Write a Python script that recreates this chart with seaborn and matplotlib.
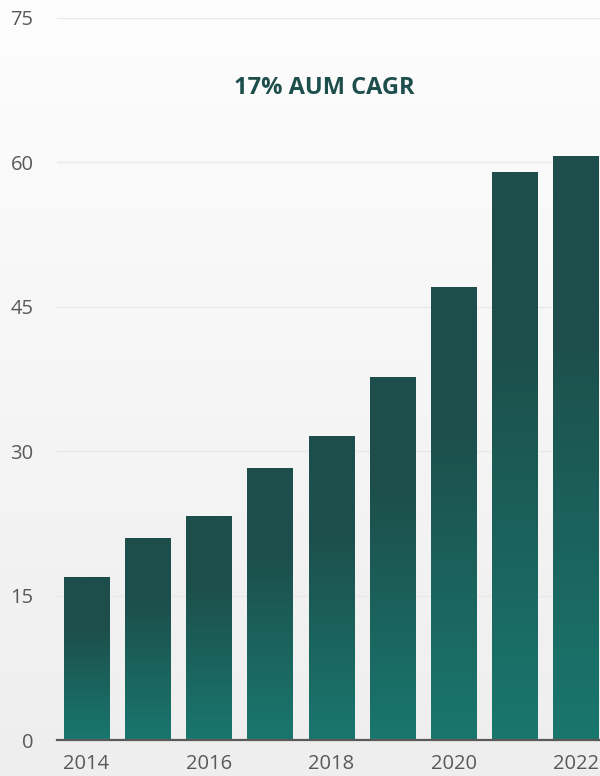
import numpy as np
import pandas as pd
import matplotlib
matplotlib.use("Agg")
import matplotlib.pyplot as plt
import matplotlib.transforms as mtransforms
from matplotlib.colors import LinearSegmentedColormap
import seaborn as sns

years = ["2014", "2015", "2016", "2017", "2018", "2019", "2020", "2021", "2022"]
aum = [16.9, 20.9, 23.2, 28.2, 31.5, 37.7, 47.0, 59.0, 60.6]
y_ticks = [0, 15, 30, 45, 60, 75]
x_labels = ["2014", "", "2016", "", "2018", "", "2020", "", "2022"]
title = "17% AUM CAGR"

sns.set_theme(style="white")
plt.rcParams["font.family"] = ["Open Sans", "DejaVu Sans"]

W, H, DPI = 600, 776, 100
fig = plt.figure(figsize=(W / DPI, H / DPI), dpi=DPI)

# soft vertical background wash behind everything
bg = fig.add_axes([0, 0, 1, 1], zorder=-10)
bg_grad = np.linspace(0, 1, 256).reshape(-1, 1)
bg_cmap = LinearSegmentedColormap.from_list("bg", ["#fdfdfd", "#eeeeee"])
bg.imshow(bg_grad, aspect="auto", cmap=bg_cmap, extent=[0, 1, 0, 1], origin="upper")
bg.set_axis_off()

left, right = 57 / W, 1.0
bottom, top = (H - 740) / H, (H - 18) / H
ax = fig.add_axes([left, bottom, right - left, top - bottom])
ax.patch.set_alpha(0)

df = pd.DataFrame({"year": years, "aum": aum})
sns.barplot(data=df, x="year", y="aum", ax=ax, width=0.74, color="#1c4d4a",
            saturation=1, zorder=3)

# each bar: solid dark top third, fading to teal at the base
bar_cmap = LinearSegmentedColormap.from_list(
    "bar", [(0.0, "#1d4e4b"), (0.30, "#1d4e4b"), (1.0, "#19776e")])
grad = np.linspace(0, 1, 256).reshape(-1, 1)
for p in ax.patches:
    x0, w, h = p.get_x(), p.get_width(), p.get_height()
    p.set_visible(False)
    ax.imshow(grad, aspect="auto", cmap=bar_cmap, origin="upper",
              extent=[x0, x0 + w, 0, h], zorder=3, interpolation="bilinear")

ax.set_xlim(-0.48, 8.39)
ax.set_ylim(0, 75)
ax.set_yticks(y_ticks)
ax.set_yticklabels([str(t) for t in y_ticks])
ax.set_xticks(range(len(years)))
ax.set_xticklabels(x_labels)
ax.set_xlabel("")
ax.set_ylabel("")

ax.yaxis.grid(True, color="#e9e9e9", linewidth=1.0, zorder=0)
ax.xaxis.grid(False)
ax.set_axisbelow(True)
for s in ["left", "right", "top"]:
    ax.spines[s].set_visible(False)
ax.spines["bottom"].set_color("#5a5a5a")
ax.spines["bottom"].set_linewidth(1.6)
ax.spines["bottom"].set_zorder(5)

ax.tick_params(axis="y", length=0, pad=17, labelsize=14.5, labelcolor="#595959")
ax.tick_params(axis="x", length=0, pad=10, labelsize=14.5, labelcolor="#595959")

title_tf = mtransforms.blended_transform_factory(ax.transAxes, ax.transData)
ax.text(0.4926, 67.7, title, transform=title_tf, ha="center", va="center",
        fontsize=17, fontweight="bold", color="#1d4e4b")

fig.savefig("out.png", dpi=DPI)
